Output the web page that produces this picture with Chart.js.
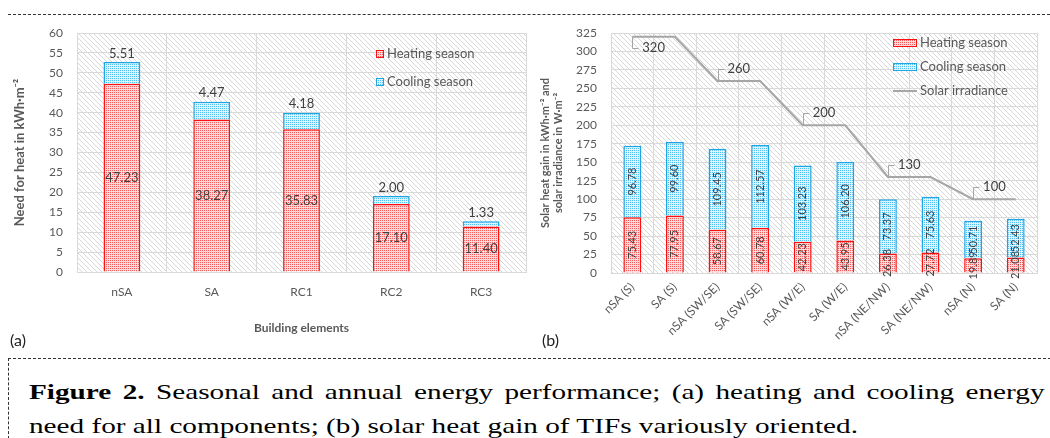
<!DOCTYPE html>
<html>
<head>
<meta charset="utf-8">
<script src="https://cdn.jsdelivr.net/npm/chart.js@4.4.1/dist/chart.umd.min.js"></script>
<style>
  html, body { margin: 0; padding: 0; background: #fff; }
  body { width: 1050px; height: 438px; position: relative; overflow: hidden; font-family: Lato, sans-serif; }
  .dash-top { position: absolute; left: 8px; top: 14px; width: 1042px; border-top: 1px dashed #333; }
  .capbox { position: absolute; left: 8px; top: 358px; width: 1042px; height: 80px; border-top: 1px dashed #333; border-left: 1px dashed #333; }
  canvas { position: absolute; }
  #chartA { left: 0; top: 20px; }
  #chartB { left: 530px; top: 20px; }
  .tag { position: absolute; top: 330px; font-size: 16px; color: #222; }
  .cap { position: absolute; left: 29px; font-family: "Liberation Serif", "Times New Roman", Times, serif; font-size: 22px; line-height: 24px; color: #000; white-space: nowrap; transform-origin: 0 0; }
  #cap1 { top: 380px; }
  #cap2 { top: 414px; }
</style>
</head>
<body>
<div class="dash-top"></div>
<canvas id="chartA" width="535" height="335"></canvas>
<canvas id="chartB" width="520" height="335"></canvas>
<div class="tag" style="left:10px">(a)</div>
<div class="tag" style="left:542px">(b)</div>
<div class="capbox"></div>
<div class="cap" id="cap1"><b>Figure 2.</b> Seasonal and annual energy performance; (a) heating and cooling energy</div>
<div class="cap" id="cap2">need for all components; (b) solar heat gain of TIFs variously oriented.</div>

<script>
// ---- data (a) ----
const categoriesA = ['nSA', 'SA', 'RC1', 'RC2', 'RC3'];
const heatingA = [47.23, 38.27, 35.83, 17.10, 11.40];
const coolingA = [5.51, 4.47, 4.18, 2.00, 1.33];
const ticksA = { min: 0, max: 60, step: 5 };

// ---- data (b) ----
const categoriesB = ['nSA (S)', 'SA (S)', 'nSA (SW/SE)', 'SA (SW/SE)', 'nSA (W/E)', 'SA (W/E)', 'nSA (NE/NW)', 'SA (NE/NW)', 'nSA (N)', 'SA (N)'];
const heatingB = [75.43, 77.95, 58.67, 60.78, 42.23, 43.95, 26.38, 27.72, 19.89, 21.08];
const coolingB = [96.78, 99.60, 109.45, 112.57, 103.23, 106.20, 73.37, 75.63, 50.71, 52.43];
const irradianceB = [320, 320, 260, 260, 200, 200, 130, 130, 100, 100];
const irradianceLabelIdx = [0, 2, 4, 6, 8]; // only first of each pair gets a label
const ticksB = { min: 0, max: 325, step: 25 };

const FONT = 'Lato, "Open Sans", sans-serif';
const TICK = '#595959';
const LABEL = '#404040';
const GRID = '#d9d9d9';

// small canvas patterns (hatched plot area, dotted bars)
function makePattern(w, h, bg, fg, pts) {
  const c = document.createElement('canvas');
  c.width = w; c.height = h;
  const x = c.getContext('2d');
  x.fillStyle = bg; x.fillRect(0, 0, w, h);
  x.fillStyle = fg;
  pts.forEach(p => x.fillRect(p[0], p[1], 1, 1));
  return x.createPattern(c, 'repeat');
}
const hatch = makePattern(5, 5, '#ffffff', '#d8d8d8', [[0, 0], [1, 1], [2, 2], [3, 3], [4, 4]]);
const redDots = makePattern(2, 2, '#fcd8d8', '#f25c5c', [[0, 0]]);
const blueDots = makePattern(2, 2, '#dcf4fd', '#52bdf0', [[0, 0]]);

// fill chart area with the hatch before anything else
const hatchBg = {
  id: 'hatchBg',
  beforeDraw(chart) {
    const { ctx, chartArea: a } = chart;
    ctx.save();
    ctx.fillStyle = hatch;
    ctx.fillRect(a.left, a.top, a.width, a.height);
    ctx.restore();
  }
};

// legend drawn inside the plot
const boxLegend = {
  id: 'boxLegend',
  afterDraw(chart, args, o) {
    const ctx = chart.ctx;
    ctx.save();
    ctx.font = `13px ${FONT}`;
    ctx.textBaseline = 'middle';
    chart.data.datasets.forEach((ds, i) => {
      const y = o.y + i * o.gap;
      if (ds.type === 'line') {
        ctx.strokeStyle = ds.borderColor;
        ctx.lineWidth = 2;
        ctx.beginPath();
        ctx.moveTo(o.x, y); ctx.lineTo(o.x + o.boxW, y);
        ctx.stroke();
      } else {
        ctx.fillStyle = ds.backgroundColor;
        ctx.fillRect(o.x, y - o.boxH / 2, o.boxW, o.boxH);
        ctx.strokeStyle = ds.borderColor;
        ctx.lineWidth = 1;
        ctx.strokeRect(o.x + 0.5, y - o.boxH / 2 + 0.5, o.boxW - 1, o.boxH - 1);
      }
      ctx.fillStyle = TICK;
      ctx.fillText(ds.label, o.x + o.boxW + 3, y);
    });
    ctx.restore();
  }
};

// (a) labels: heating centred in segment, cooling above the stack
const labelsA = {
  id: 'labelsA',
  afterDatasetsDraw(chart) {
    const ctx = chart.ctx;
    ctx.save();
    ctx.font = `13px ${FONT}`;
    ctx.fillStyle = LABEL;
    ctx.textAlign = 'center';
    chart.data.datasets.forEach((ds, i) => {
      chart.getDatasetMeta(i).data.forEach((bar, j) => {
        const txt = ds.data[j].toFixed(2);
        if (i === 0) {
          ctx.textBaseline = 'middle';
          ctx.fillText(txt, bar.x, (bar.y + bar.base) / 2);
        } else {
          ctx.textBaseline = 'bottom';
          ctx.fillText(txt, bar.x, bar.y - 2);
        }
      });
    });
    ctx.restore();
  }
};

// (b) labels: rotated values inside bars, call-outs on the irradiance line
const labelsB = {
  id: 'labelsB',
  afterDatasetsDraw(chart) {
    const ctx = chart.ctx;
    ctx.save();
    ctx.font = `11px ${FONT}`;
    ctx.fillStyle = LABEL;
    ctx.textAlign = 'center';
    ctx.textBaseline = 'middle';
    [0, 1].forEach(i => {
      const ds = chart.data.datasets[i];
      chart.getDatasetMeta(i).data.forEach((bar, j) => {
        ctx.save();
        ctx.translate(bar.x, (bar.y + bar.base) / 2);
        ctx.rotate(-Math.PI / 2);
        ctx.fillText(ds.data[j].toFixed(2), 0, 0);
        ctx.restore();
      });
    });
    const pts = chart.getDatasetMeta(2).data;
    ctx.font = `13px ${FONT}`;
    ctx.textAlign = 'left';
    ctx.strokeStyle = '#a6a6a6';
    ctx.lineWidth = 1;
    irradianceLabelIdx.forEach(i => {
      const p = pts[i];
      const ly = i === 0 ? p.y + 11 : p.y - 12;
      ctx.beginPath();
      ctx.moveTo(Math.round(p.x) + 0.5, p.y);
      ctx.lineTo(Math.round(p.x) + 0.5, Math.round(ly) + 0.5);
      ctx.lineTo(Math.round(p.x) + 6.5, Math.round(ly) + 0.5);
      ctx.stroke();
      ctx.fillText(String(irradianceB[i]), p.x + 10, ly);
    });
    ctx.restore();
  }
};

function yScale(t, width, title, size, pad) {
  return {
    stacked: true,
    min: t.min,
    max: t.max,
    ticks: { stepSize: t.step, padding: 14, color: TICK, font: { family: FONT, size: 12 } },
    grid: { color: GRID, drawTicks: false },
    border: { color: GRID },
    title: { display: true, text: title, color: TICK, font: { family: FONT, size: size, weight: 'bold' }, padding: { top: pad, bottom: 0 } },
    afterFit(s) {
      s.width = width;
      // tick padding would otherwise push the plot top down
      s.paddingTop = 0;
      s.paddingBottom = 0;
    }
  };
}

new Chart(document.getElementById('chartA'), {
  type: 'bar',
  data: {
    labels: categoriesA,
    datasets: [
      { label: 'Heating season', data: heatingA, backgroundColor: redDots, borderColor: '#ff1010', borderWidth: 1.5, stack: 's' },
      { label: 'Cooling season', data: coolingA, backgroundColor: blueDots, borderColor: '#1ea5e6', borderWidth: 1.5, stack: 's' }
    ]
  },
  options: {
    responsive: false,
    animation: false,
    devicePixelRatio: 1,
    layout: { padding: { top: 13, right: 9, left: 0, bottom: 0 } },
    datasets: { bar: { categoryPercentage: 1, barPercentage: 0.41 } },
    plugins: {
      legend: { display: false },
      tooltip: { enabled: false },
      boxLegend: { x: 376, y: 34, gap: 28, boxW: 8, boxH: 8 }
    },
    scales: {
      x: {
        stacked: true,
        grid: { color: GRID, drawTicks: false, offset: true },
        border: { color: GRID },
        ticks: { padding: 13, color: TICK, font: { family: FONT, size: 12 } },
        title: { display: true, text: 'Building elements', color: TICK, font: { family: FONT, size: 12, weight: 'bold' }, padding: { top: 0, bottom: 20 } },
        afterFit(s) { s.height = 83; }
      },
      y: yScale(ticksA, 77, 'Need for heat in kWh·m⁻²', 13, 12)
    }
  },
  plugins: [hatchBg, labelsA, boxLegend]
});

new Chart(document.getElementById('chartB'), {
  type: 'bar',
  data: {
    labels: categoriesB,
    datasets: [
      { label: 'Heating season', data: heatingB, backgroundColor: redDots, borderColor: '#ff1010', borderWidth: 1.5, stack: 's' },
      { label: 'Cooling season', data: coolingB, backgroundColor: blueDots, borderColor: '#1ea5e6', borderWidth: 1.5, stack: 's' },
      { type: 'line', label: 'Solar irradiance', data: irradianceB, borderColor: '#a6a6a6', borderWidth: 2, pointRadius: 0, tension: 0, stack: 'irr' }
    ]
  },
  options: {
    responsive: false,
    animation: false,
    devicePixelRatio: 1,
    layout: { padding: { top: 13, right: 13, left: 0, bottom: 0 } },
    datasets: { bar: { categoryPercentage: 1, barPercentage: 0.42 } },
    plugins: {
      legend: { display: false },
      tooltip: { enabled: false },
      boxLegend: { x: 363, y: 23, gap: 24, boxW: 24, boxH: 8 }
    },
    scales: {
      x: {
        stacked: true,
        grid: { color: GRID, drawTicks: false, offset: true },
        border: { color: GRID },
        ticks: { padding: 7, minRotation: 45, maxRotation: 45, autoSkip: false, color: TICK, font: { family: FONT, size: 12 } },
        afterFit(s) { s.height = 82; }
      },
      y: yScale(ticksB, 81, ['Solar heat gain in kWh·m⁻² and', 'solar irradiance in W·m⁻²'], 11, 9)
    }
  },
  plugins: [hatchBg, labelsB, boxLegend]
});

// caption: glyphs are stretched wide in the reference, first line justified
const cap1 = document.getElementById('cap1');
const cap2 = document.getElementById('cap2');
const sx = 829 / cap2.offsetWidth;
cap1.style.transform = cap2.style.transform = `scaleX(${sx})`;
const nSpaces = (cap1.textContent.match(/ /g) || []).length;
cap1.style.wordSpacing = ((1016 / sx - cap1.offsetWidth) / nSpaces) + 'px';
</script>
</body>
</html>
